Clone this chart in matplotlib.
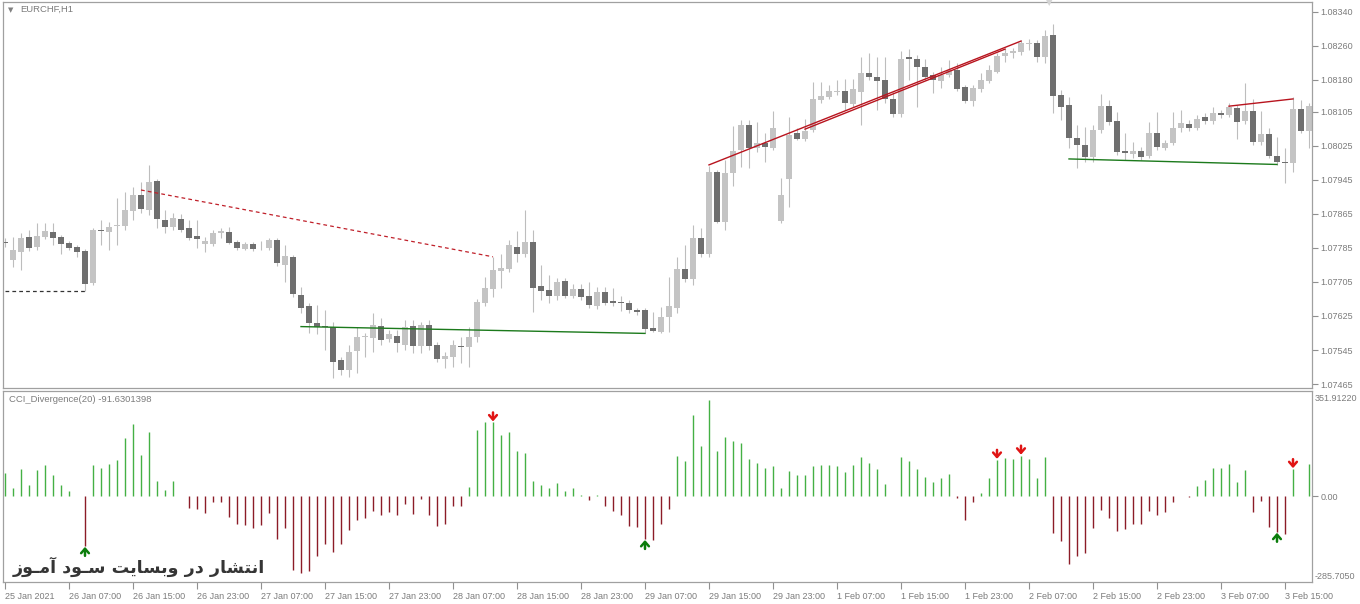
import numpy as np
import pandas as pd
import matplotlib
matplotlib.use('Agg')
import matplotlib.pyplot as plt

plt.rcParams['font.family'] = ['Liberation Sans', 'DejaVu Sans']

# EURCHF H1 candles, prices in points (1e-5)
opens = [107799, 107757, 107776, 107810, 107788, 107811, 107822, 107810, 107796, 107787,
         107778, 107703, 107827, 107823, 107836, 107837, 107872, 107909, 107874, 107942,
         107850, 107835, 107853, 107832, 107813, 107793, 107794, 107819, 107823, 107799,
         107783, 107794, 107785, 107784, 107803, 107745, 107764, 107674, 107648, 107609,
         107601, 107600, 107521, 107498, 107543, 107576, 107574, 107602, 107570, 107579,
         107557, 107602, 107555, 107604, 107557, 107524, 107529, 107555, 107551, 107575,
         107656, 107688, 107731, 107735, 107788, 107771, 107799, 107695, 107686, 107672,
         107708, 107672, 107688, 107672, 107648, 107682, 107661, 107658, 107656, 107639,
         107639, 107597, 107588, 107623, 107644, 107735, 107712, 107809, 107771, 107963,
         107846, 107960, 108015, 108074, 108019, 108032, 108020, 107848, 107948, 108054,
         108041, 108062, 108132, 108140, 108151, 108154, 108123, 108152, 108195, 108186,
         108179, 108135, 108100, 108233, 108230, 108211, 108191, 108178, 108191, 108203,
         108162, 108131, 108158, 108178, 108199, 108236, 108242, 108246, 108264, 108267,
         108234, 108286, 108144, 108121, 108044, 108027, 107999, 108062, 108118, 108084,
         108013, 108006, 108013, 108002, 108054, 108020, 108032, 108066, 108076, 108067,
         108092, 108084, 108103, 108097, 108113, 108084, 108107, 108034, 108053, 108002,
         107986, 107984, 108111, 108060]
highs = [107808, 107811, 107821, 107827, 107843, 107843, 107844, 107815, 107801, 107792,
         107782, 107832, 107850, 107846, 107903, 107916, 107929, 107940, 107980, 107947,
         107874, 107867, 107864, 107850, 107850, 107811, 107827, 107831, 107835, 107803,
         107799, 107799, 107800, 107808, 107808, 107792, 107768, 107694, 107655, 107651,
         107639, 107611, 107529, 107557, 107600, 107585, 107632, 107620, 107592, 107592,
         107615, 107615, 107611, 107615, 107564, 107540, 107568, 107576, 107600, 107666,
         107717, 107763, 107770, 107803, 107825, 107874, 107827, 107745, 107721, 107714,
         107714, 107700, 107700, 107705, 107694, 107693, 107690, 107672, 107662, 107643,
         107644, 107635, 107647, 107717, 107764, 107792, 107839, 107831, 107978, 107968,
         107991, 108071, 108085, 108085, 108081, 108054, 108107, 107949, 108093, 108066,
         108088, 108175, 108175, 108168, 108179, 108181, 108183, 108233, 108242, 108234,
         108234, 108152, 108248, 108252, 108238, 108228, 108198, 108211, 108226, 108219,
         108168, 108168, 108196, 108215, 108243, 108254, 108255, 108273, 108275, 108273,
         108297, 108311, 108156, 108140, 108074, 108070, 108074, 108147, 108132, 108105,
         108054, 108034, 108023, 108081, 108104, 108038, 108104, 108109, 108085, 108097,
         108102, 108117, 108109, 108125, 108121, 108172, 108136, 108107, 108066, 108046,
         108019, 108140, 108132, 108125]
lows = [107787, 107740, 107733, 107778, 107780, 107806, 107792, 107771, 107780, 107763,
        107684, 107698, 107792, 107780, 107792, 107827, 107850, 107867, 107862, 107831,
        107820, 107827, 107823, 107803, 107785, 107776, 107789, 107808, 107795, 107780,
        107780, 107778, 107780, 107780, 107742, 107705, 107670, 107631, 107584, 107583,
        107545, 107479, 107486, 107482, 107490, 107528, 107541, 107557, 107564, 107541,
        107545, 107537, 107537, 107545, 107517, 107502, 107506, 107514, 107506, 107564,
        107648, 107670, 107690, 107728, 107752, 107764, 107635, 107662, 107655, 107662,
        107667, 107667, 107662, 107643, 107641, 107651, 107648, 107637, 107632, 107627,
        107584, 107587, 107585, 107588, 107632, 107705, 107698, 107764, 107764, 107843,
        107827, 107931, 107976, 107973, 108011, 107987, 108015, 107843, 107882, 108038,
        108036, 108057, 108125, 108136, 108144, 108109, 108116, 108074, 108179, 108109,
        108125, 108092, 108092, 108179, 108116, 108179, 108150, 108160, 108186, 108154,
        108125, 108118, 108151, 108172, 108196, 108222, 108231, 108238, 108250, 108222,
        108219, 108101, 108085, 108020, 107972, 107987, 107987, 108055, 108074, 108003,
        107991, 107996, 107991, 107996, 108015, 108015, 108027, 108058, 108060, 108062,
        108076, 108076, 108090, 108093, 108042, 108076, 108027, 108027, 107996, 107980,
        107937, 107964, 108055, 108019]
closes = [107797, 107780, 107808, 107785, 107813, 107825, 107809, 107795, 107785, 107776,
          107699, 107827, 107826, 107833, 107838, 107874, 107909, 107876, 107940, 107852,
          107835, 107856, 107827, 107809, 107807, 107800, 107819, 107824, 107797, 107785,
          107794, 107783, 107784, 107803, 107749, 107766, 107677, 107644, 107608, 107600,
          107599, 107517, 107498, 107541, 107576, 107577, 107604, 107568, 107582, 107561,
          107600, 107555, 107604, 107555, 107524, 107532, 107557, 107551, 107575, 107658,
          107691, 107733, 107738, 107792, 107771, 107799, 107691, 107684, 107672, 107705,
          107672, 107688, 107670, 107651, 107682, 107656, 107655, 107655, 107639, 107634,
          107594, 107590, 107623, 107649, 107735, 107712, 107809, 107771, 107963, 107846,
          107960, 108013, 108074, 108019, 108031, 108023, 108067, 107909, 108050, 108042,
          108060, 108136, 108142, 108154, 108154, 108125, 108158, 108195, 108187, 108178,
          108135, 108099, 108230, 108229, 108211, 108187, 108179, 108191, 108203, 108159,
          108131, 108160, 108179, 108203, 108236, 108242, 108248, 108266, 108266, 108234,
          108284, 108143, 108117, 108043, 108027, 107998, 108062, 108118, 108081, 108011,
          108007, 108013, 107998, 108054, 108023, 108031, 108066, 108078, 108067, 108089,
          108084, 108103, 108097, 108115, 108081, 108107, 108034, 108053, 108002, 107986,
          107985, 108111, 108060, 108118]

cci = [78, 28, 91, 38, 89, 106, 71, 38, 19, 2, -165, 106, 96, 108, 122, 195, 243, 138, 216, 52,
       21, 50, 0, -39, -42, -56, -18, -17, -69, -92, -96, -105, -96, -56, -142, -105, -244, -255, -248, -198,
       -159, -185, -159, -112, -79, -71, -48, -61, -51, -61, -26, -59, -9, -61, -98, -92, -31, -31, 32, 223,
       250, 247, 206, 214, 152, 146, 50, 39, 27, 45, 17, 27, 4, -13, 4, -31, -48, -61, -98, -101,
       -142, -145, -92, -42, 136, 119, 271, 169, 323, 152, 198, 186, 178, 125, 111, 96, 102, 28, 85, 71,
       71, 102, 106, 106, 102, 82, 106, 132, 111, 91, 42, 2, 132, 119, 91, 66, 49, 62, 76, -4,
       -78, -20, 11, 62, 122, 129, 125, 136, 125, 62, 132, -122, -149, -225, -198, -189, -105, -45, -71, -115,
       -109, -91, -92, -48, -61, -51, -20, 2, -2, 36, 56, 96, 96, 109, 49, 89, -51, -14, -103, -118,
       -126, 91, 2, 107]
cci_max, cci_min, cci_last = 351.91220, -285.7050, -91.6301398
buy_arrows = [10, 80, 159]
sell_arrows = [61, 124, 127, 161]

# divergence / level lines: (bar1, price1, bar2, price2)
dash_red = (17, 107921, 61, 107764)
dash_black = (0, 107684, 10, 107684)
green_lines = [(37, 107600, 80, 107584), (133, 107994, 159, 107981)]
red_lines = [(88, 107980, 127, 108271), (100, 108064, 125, 108252), (153, 108118, 161, 108135)]

price_levels = [1.08340, 1.08260, 1.08180, 1.08105, 1.08025, 1.07945,
                1.07865, 1.07785, 1.07705, 1.07625, 1.07545, 1.07465]

first_bar = pd.Timestamp('2021-01-25 23:00')
monday_open = pd.Timestamp('2021-02-01 00:00')
times = list(pd.date_range(first_bar, periods=97, freq='h')) + \
        list(pd.date_range(monday_open, periods=67, freq='h'))

W, H = 1360, 604
fig = plt.figure(figsize=(13.6, 6.04), dpi=100)
fig.patch.set_facecolor('white')


def px_axes(x0, y0, x1, y1):
    return fig.add_axes([x0 / W, 1 - y1 / H, (x1 - x0) / W, (y1 - y0) / H])


ax = px_axes(3, 2, 1312, 388)
ax2 = px_axes(3, 391, 1312, 582)

o = np.array(opens) / 1e5
h = np.array(highs) / 1e5
l = np.array(lows) / 1e5
c = np.array(closes) / 1e5
idx = np.arange(len(o))
up = c > o

ax.vlines(idx, l, h, color='#bdbdbd', lw=0.8, zorder=1)
lo_b = np.minimum(o, c)
body = np.abs(c - o)
small = body < 0.000015
lo_b[small] -= (0.000015 - body[small]) / 2
body = np.maximum(body, 0.000015)
ax.bar(idx[up], body[up], bottom=lo_b[up], width=0.82, color='#c4c4c4', lw=0, zorder=2)
ax.bar(idx[~up], body[~up], bottom=lo_b[~up], width=0.82, color='#6f6f6f', lw=0, zorder=2)

ax.plot([dash_red[0], dash_red[2]], [dash_red[1] / 1e5, dash_red[3] / 1e5],
        color='#c0202a', lw=0.9, ls=(0, (3, 2.5)), zorder=3)
ax.plot([dash_black[0], dash_black[2]], [dash_black[1] / 1e5, dash_black[3] / 1e5],
        color='#333333', lw=0.9, ls=(0, (3, 2.5)), zorder=3)
for b1, p1, b2, p2 in green_lines:
    ax.plot([b1, b2], [p1 / 1e5, p2 / 1e5], color='#1c7a1c', lw=1.0, zorder=3)
for b1, p1, b2, p2 in red_lines:
    ax.plot([b1, b2], [p1 / 1e5, p2 / 1e5], color='#b8141e', lw=1.0, zorder=3)

ax.set_xlim(-0.25, 163.375)
ax.set_ylim(1.074557, 1.083628)
ax.yaxis.tick_right()
ax.set_yticks(price_levels)
ax.set_yticklabels(['%.5f' % v for v in price_levels])
ax.set_xticks([])
ax.tick_params(axis='y', length=4, width=0.8, color='#909090', labelcolor='#7c7c7c',
               labelsize=6.5, pad=2)

# CCI histogram
cci = np.array(cci, dtype=float)
cols = np.where(cci >= 0, '#44b044', '#8c1c28')
ax2.vlines(idx, 0, cci, colors=cols, lw=1.0)

# signal arrows, just beyond the bar end (one pixel = data range / 191)
px = (cci_max - cci_min) / 191.0
arrow_style = dict(arrowstyle='->,head_width=0.28,head_length=0.32', lw=1.8,
                   shrinkA=0, shrinkB=0, mutation_scale=10)
for i in buy_arrows:
    ax2.annotate('', xy=(i, cci[i] - 1 * px), xytext=(i, cci[i] - 10 * px),
                 arrowprops=dict(arrow_style, color='#0b7d0b'))
for i in sell_arrows:
    ax2.annotate('', xy=(i, cci[i] + 1 * px), xytext=(i, cci[i] + 10 * px),
                 arrowprops=dict(arrow_style, color='#e01414'))

ax2.set_xlim(-0.25, 163.375)
ax2.set_ylim(cci_min, cci_max)
ax2.yaxis.tick_right()
ax2.set_yticks([0])
ax2.set_yticklabels(['0.00'])
ax2.annotate('%.5f' % cci_max, xy=(1, 1), xycoords='axes fraction', xytext=(2, -2),
             textcoords='offset points', ha='left', va='top', fontsize=6.5, color='#7c7c7c')
ax2.annotate('%.4f' % cci_min, xy=(1, 0), xycoords='axes fraction', xytext=(2, 1),
             textcoords='offset points', ha='left', va='bottom', fontsize=6.5, color='#7c7c7c')

tick_pos = list(range(0, len(times), 8))
tick_lab = []
for k in tick_pos:
    t = times[k]
    if k == 0:
        tick_lab.append('%d %s %d' % (t.day, t.strftime('%b'), t.year))
    else:
        tick_lab.append('%d %s' % (t.day, t.strftime('%b %H:%M')))
ax2.set_xticks(tick_pos)
ax2.set_xticklabels(tick_lab, ha='left')
ax2.tick_params(axis='x', length=5, width=0.8, color='#909090', labelcolor='#7c7c7c',
                labelsize=6.5, pad=2)
ax2.tick_params(axis='y', length=4, width=0.8, color='#909090', labelcolor='#7c7c7c',
                labelsize=6.5, pad=2)

for a in (ax, ax2):
    for s in a.spines.values():
        s.set_color('#a0a0a0')
        s.set_linewidth(0.9)

fig.text(8 / W, 1 - 10 / H, '\u25bc', fontsize=5, color='#808080', va='center',
         family='DejaVu Sans')
fig.text(20 / W, 1 - 9.5 / H, 'EURCHF,H1', fontsize=6.8, color='#7c7c7c', va='center')
fig.text(9 / W, 1 - 399 / H, 'CCI_Divergence(20) %.7f' % cci_last, fontsize=6.8,
         color='#7c7c7c', va='center')
fig.text(1049 / W, 1 - 3 / H, '\u25bc', fontsize=6, color='#d4d4d4', ha='center',
         va='center', family='DejaVu Sans')

# watermark (Persian, shaped glyphs in visual order)
mark = ('\uFEAF\uFEEE\u0640\uFEE3\uFE81 \uFEA9\uFEEE\u0640\uFEB3 '
        '\uFE96\uFEF3\uFE8E\uFEB4\uFE91\uFEED \uFEAD\uFEA9 '
        '\uFEAD\uFE8E\uFEB8\uFE98\uFEE7\uFE8D')
fig.text(139 / W, 1 - 567 / H, mark, fontsize=12.6, fontweight='bold', color='#353535',
         ha='center', va='center', family='DejaVu Sans')

fig.savefig('out.png', dpi=100)
